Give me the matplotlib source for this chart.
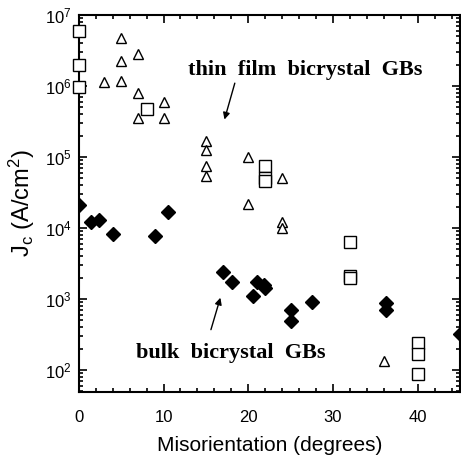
import matplotlib
matplotlib.use("Agg")
import matplotlib.pyplot as plt
from matplotlib.ticker import MultipleLocator, LogLocator, NullFormatter

plt.rcParams['font.family'] = ['Liberation Sans', 'DejaVu Sans']
plt.rcParams['mathtext.fontset'] = 'custom'
plt.rcParams['mathtext.rm'] = 'Liberation Sans'
plt.rcParams['mathtext.it'] = 'Liberation Sans:italic'

# thin film bicrystal GBs, squares
sq_x = [0, 0, 0, 8, 22, 22, 22, 32, 32, 32, 40, 40, 40]
sq_y = [6.0e6, 2.0e6, 9.7e5, 4.7e5, 7.5e4, 5.0e4, 4.6e4, 6.3e3, 2.1e3, 2.0e3, 2.4e2, 1.7e2, 88]

# thin film bicrystal GBs, triangles
tri_x = [3, 5, 5, 5, 7, 7, 7, 10, 10, 15, 15, 15, 15, 20, 20, 24, 24, 24, 36]
tri_y = [1.14e6, 4.7e6, 2.25e6, 1.17e6, 2.8e6, 8.0e5, 3.5e5, 6.0e5, 3.6e5,
         1.7e5, 1.25e5, 7.4e4, 5.4e4, 1.0e5, 2.2e4, 5.0e4, 1.2e4, 1.0e4, 135]

# bulk bicrystal GBs, diamonds
dia_x = [0, 1.4, 2.4, 4, 9, 10.5, 17, 18.1, 20.5, 21, 21.8, 22, 25, 25, 27.5, 36.2, 36.2, 45]
dia_y = [2.1e4, 1.2e4, 1.3e4, 8.2e3, 7.8e3, 1.7e4, 2.4e3, 1.75e3, 1.1e3, 1.75e3,
         1.6e3, 1.45e3, 7.0e2, 4.9e2, 9.2e2, 8.7e2, 7.0e2, 3.2e2]

fig = plt.figure(figsize=(4.61, 4.58), dpi=100)
ax = fig.add_axes([0.171, 0.144, 0.827, 0.823])

ax.plot(sq_x, sq_y, 's', ms=8, mfc='white', mec='black', mew=1.0, clip_on=False, zorder=3)
ax.plot(tri_x, tri_y, '^', ms=7, mfc='white', mec='black', mew=1.0, clip_on=False, zorder=3)
ax.plot(dia_x, dia_y, 'D', ms=7, mfc='black', mec='black', clip_on=True, zorder=3)

ax.set_yscale('log')
ax.set_xlim(0, 45)
ax.set_ylim(49, 1e7)

ax.xaxis.set_major_locator(MultipleLocator(10))
ax.xaxis.set_minor_locator(MultipleLocator(2))
ax.yaxis.set_major_locator(LogLocator(base=10))
ax.yaxis.set_minor_locator(LogLocator(base=10, subs=range(2, 10)))
ax.yaxis.set_minor_formatter(NullFormatter())

ax.tick_params(which='both', direction='in', top=True, right=True, width=1.2)
ax.tick_params(which='major', length=6, labelsize=12)
ax.tick_params(which='minor', length=3)
ax.tick_params(axis='x', which='major', pad=13)
ax.tick_params(axis='y', which='major', pad=5)
for s in ax.spines.values():
    s.set_linewidth(1.5)

ax.set_xlabel('Misorientation (degrees)', fontsize=15, labelpad=8)
ax.set_ylabel(r'J$_\mathregular{c}$ (A/cm$^\mathregular{2}$)', fontsize=17, labelpad=6)

# group labels, placed in figure pixels of the original
ann = dict(fontsize=16, fontweight='bold', family='Liberation Serif',
           ha='center', va='center', transform=fig.transFigure)
ax.text(305 / 461, 1 - 70 / 458, 'thin  film  bicrystal  GBs', **ann)
ax.text(231 / 461, 1 - 353 / 458, 'bulk  bicrystal  GBs', **ann)

arrow = dict(arrowstyle='-|>', color='black', lw=1.0, mutation_scale=10)
ax.annotate('', xy=(17.1, 3.1e5), xytext=(18.5, 1.2e6), arrowprops=arrow)
ax.annotate('', xy=(16.8, 1.14e3), xytext=(15.5, 3.4e2), arrowprops=arrow)

fig.savefig('out.png', dpi=100)
